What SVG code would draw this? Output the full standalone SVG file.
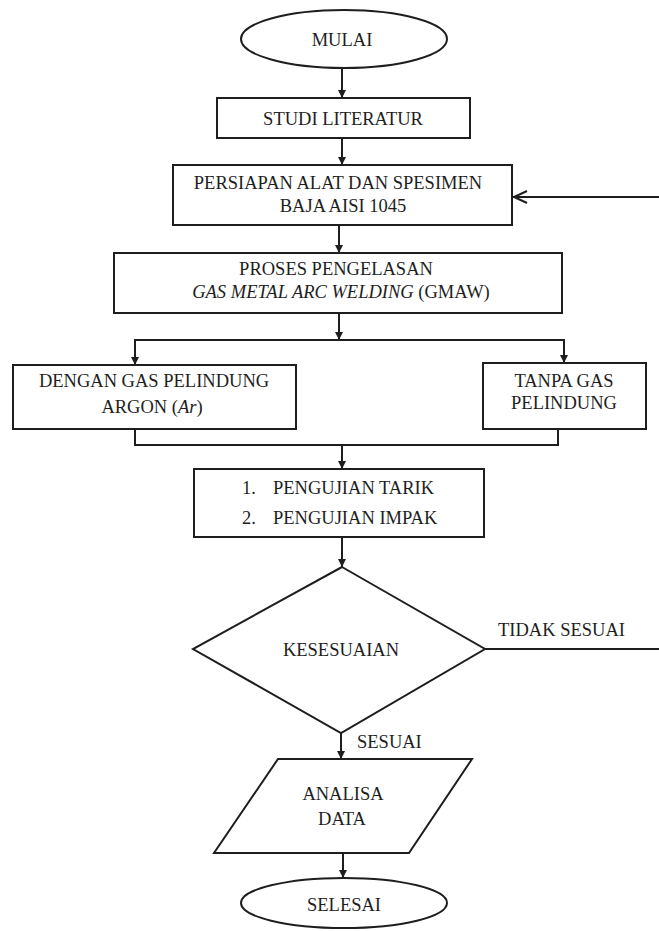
<svg xmlns="http://www.w3.org/2000/svg" width="659" height="931" viewBox="0 0 659 931">
<defs>
<style>
.s{fill:#fff;stroke:#1e1e1e;stroke-width:2}
.t{font-family:"Liberation Serif","Times New Roman",serif;font-size:18.5px;fill:#1e1e1e}
.c{text-anchor:middle}
.l{fill:none;stroke:#1e1e1e;stroke-width:2}
</style>
<marker id="ah" viewBox="0 0 10 10" refX="10" refY="5" markerWidth="8" markerHeight="8" markerUnits="userSpaceOnUse" orient="auto">
<path d="M0,0 L10,5 L0,10 z" fill="#1e1e1e"/>
</marker>
</defs>
<rect width="659" height="931" fill="#fff"/>
<g id="connectors">
<line class="l" x1="342" y1="68" x2="342" y2="98" marker-end="url(#ah)"/>
<line class="l" x1="342" y1="138" x2="342" y2="165" marker-end="url(#ah)"/>
<line class="l" x1="339" y1="225" x2="339" y2="253" marker-end="url(#ah)"/>
<line class="l" x1="339" y1="313" x2="339" y2="340" marker-end="url(#ah)"/>
<polyline class="l" points="135,365 135,340 564,340 564,363"/>
<line class="l" x1="135" y1="350" x2="135" y2="365" marker-end="url(#ah)"/>
<line class="l" x1="564" y1="350" x2="564" y2="363" marker-end="url(#ah)"/>
<polyline class="l" points="135,429 135,445 558,445 558,429"/>
<line class="l" x1="342" y1="445" x2="342" y2="469" marker-end="url(#ah)"/>
<line class="l" x1="342" y1="537" x2="342" y2="567" marker-end="url(#ah)"/>
<line class="l" x1="341" y1="733" x2="341" y2="759" marker-end="url(#ah)"/>
<line class="l" x1="343" y1="853" x2="343" y2="878" marker-end="url(#ah)"/>
<line class="l" x1="485" y1="649" x2="659" y2="649"/>
<line class="l" x1="659" y1="197" x2="513" y2="197"/>
<polyline class="l" points="527,191 514,197 527,203"/>
<text class="t" x="498" y="636">TIDAK SESUAI</text>
<text class="t" x="357" y="748">SESUAI</text>
</g>
<g id="mulai">
<ellipse class="s" cx="344" cy="39" rx="103" ry="29" stroke-width="1.6"/>
<text class="t c" x="342" y="46">MULAI</text>
</g>
<g id="studi">
<rect class="s" x="217" y="98" width="253" height="40"/>
<text class="t c" x="343" y="125">STUDI LITERATUR</text>
</g>
<g id="persiapan">
<rect class="s" x="173" y="165" width="339" height="60"/>
<text class="t c" x="338" y="189">PERSIAPAN ALAT DAN SPESIMEN</text>
<text class="t c" x="343" y="212">BAJA AISI 1045</text>
</g>
<g id="proses">
<rect class="s" x="114" y="253" width="448" height="60"/>
<text class="t c" x="336" y="275">PROSES PENGELASAN</text>
<text class="t c" x="341" y="298"><tspan font-style="italic">GAS METAL ARC WELDING</tspan> (GMAW)</text>
</g>
<g id="dengan">
<rect class="s" x="13" y="365" width="283" height="64"/>
<text class="t c" x="154" y="387">DENGAN GAS PELINDUNG</text>
<text class="t c" x="152" y="413">ARGON (<tspan font-style="italic">Ar</tspan>)</text>
</g>
<g id="tanpa">
<rect class="s" x="483" y="363" width="163" height="66"/>
<text class="t c" x="564" y="387">TANPA GAS</text>
<text class="t c" x="564" y="409">PELINDUNG</text>
</g>
<g id="pengujian">
<rect class="s" x="194" y="469" width="290" height="68"/>
<text class="t" x="242" y="494">1.</text>
<text class="t" x="273" y="494">PENGUJIAN TARIK</text>
<text class="t" x="242" y="524">2.</text>
<text class="t" x="273" y="524">PENGUJIAN IMPAK</text>
</g>
<g id="kesesuaian">
<polygon class="s" points="342,567 485,649 341,733 193,649" stroke-width="3"/>
<text class="t c" x="341" y="656">KESESUAIAN</text>
</g>
<g id="analisa">
<polygon class="s" points="278,759 472,759 409,853 214,853"/>
<text class="t c" x="343" y="800">ANALISA</text>
<text class="t c" x="342" y="825">DATA</text>
</g>
<g id="selesai">
<ellipse class="s" cx="344" cy="903" rx="103" ry="25" stroke-width="1.6"/>
<text class="t c" x="344" y="911">SELESAI</text>
</g>
</svg>
